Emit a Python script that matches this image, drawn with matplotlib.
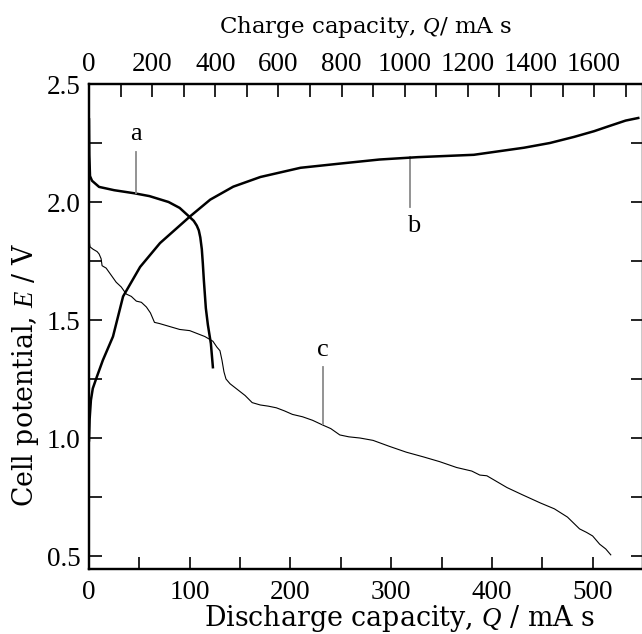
import matplotlib
matplotlib.use('Agg')
import matplotlib.pyplot as plt
from matplotlib.ticker import MultipleLocator

# curve a: discharge (bottom axis), Q / mA s vs E / V
a_q = [0, 0.3, 1, 3, 10, 25, 45, 60, 79, 90, 99, 104, 107, 109, 110.5, 112, 113, 114, 116,
       118, 121, 123]
a_e = [2.35, 2.2, 2.11, 2.09, 2.064, 2.05, 2.037, 2.025, 2.0, 1.975, 1.94, 1.92, 1.90, 1.88,
       1.85, 1.80, 1.74, 1.67, 1.55, 1.48, 1.40, 1.30]

# curve b: charge (top axis)
b_q = [0, 2, 6, 12, 25, 44, 76, 108, 162, 225, 321, 384, 457, 543, 670, 797, 920, 1041,
       1219, 1378, 1460, 1537, 1600, 1644, 1700, 1740]
b_e = [0.99, 1.08, 1.16, 1.21, 1.26, 1.33, 1.43, 1.60, 1.725, 1.826, 1.94, 2.01, 2.065, 2.106,
       2.145, 2.163, 2.18, 2.19, 2.20, 2.23, 2.25, 2.276, 2.30, 2.32, 2.345, 2.356]

# curve c: discharge (bottom axis), noisy trace
c_q = [0, 1, 4, 8, 10, 12, 13, 17, 22, 27, 32, 37, 42, 47, 52, 57, 61, 65, 70, 78, 90, 100,
       109, 115, 119, 123, 127, 130, 132, 134, 136, 140, 149, 155, 162, 170, 178, 186, 194, 202,
       212, 222, 232, 240, 249, 258, 269, 282, 298, 315, 332, 348, 365, 380, 388, 395, 405,
       415, 430, 448, 462, 475, 481, 487, 494, 500, 507, 513, 518]
c_e = [1.84, 1.81, 1.80, 1.79, 1.78, 1.76, 1.73, 1.72, 1.69, 1.66, 1.64, 1.61, 1.60, 1.58,
       1.575, 1.555, 1.53, 1.49, 1.485, 1.475, 1.46, 1.455, 1.44, 1.43, 1.42, 1.41, 1.385,
       1.37, 1.33, 1.28, 1.25, 1.23, 1.20, 1.18, 1.15, 1.14, 1.135, 1.128, 1.115, 1.10, 1.09,
       1.075, 1.055, 1.04, 1.013, 1.005, 1.0, 0.99, 0.965, 0.94, 0.92, 0.90, 0.875, 0.86,
       0.843, 0.84, 0.815, 0.79, 0.76, 0.725, 0.70, 0.665, 0.64, 0.615, 0.60, 0.585, 0.55,
       0.53, 0.505]

plt.rcParams['font.family'] = ['Liberation Serif', 'DejaVu Serif']
plt.rcParams['mathtext.fontset'] = 'custom'
plt.rcParams['mathtext.it'] = 'Liberation Serif:italic'
plt.rcParams['mathtext.rm'] = 'Liberation Serif'
label_font = ['DejaVu Serif']

fig = plt.figure(figsize=(6.42, 6.34), dpi=100)
ax = fig.add_axes([89 / 642, 65 / 634, 554 / 642, 485 / 634])

ax.plot(a_q, a_e, color='black', lw=1.8)
ax.plot(c_q, c_e, color='black', lw=0.8)
ax.set_xlim(0, 550)
ax.set_ylim(0.445, 2.5)

ax2 = ax.twiny()
ax2.plot(b_q, b_e, color='black', lw=1.8)
ax2.set_xlim(0, 1755)

ax.xaxis.set_major_locator(MultipleLocator(100))
ax.xaxis.set_minor_locator(MultipleLocator(50))
ax.yaxis.set_major_locator(MultipleLocator(0.5))
ax.yaxis.set_minor_locator(MultipleLocator(0.25))
ax2.xaxis.set_major_locator(MultipleLocator(200))
ax2.xaxis.set_minor_locator(MultipleLocator(100))
ax.yaxis.set_major_formatter(plt.FormatStrFormatter('%.1f'))

for a in (ax, ax2):
    a.tick_params(which='both', direction='in', labelsize=19.5, width=1.2, length=9)
    for s in a.spines.values():
        s.set_linewidth(1.6)
ax.tick_params(axis='y', which='both', right=True, pad=6)
ax.tick_params(axis='x', which='both', top=False, pad=8)
ax2.tick_params(axis='x', pad=5)

fig.text(366 / 642, 1 - 27 / 634, 'Charge capacity, $Q$/ mA s', fontsize=16.5,
         family=label_font, ha='center', va='center')
fig.text(400 / 642, 1 - 619 / 634, 'Discharge capacity, $Q$ / mA s', fontsize=19.4,
         family=label_font, ha='center', va='center')
fig.text(26 / 642, 1 - 375 / 634, 'Cell potential, $E$ / V', fontsize=19.3,
         family=label_font, ha='center', va='center', rotation=90)

# curve labels with gray leader lines
gray = '#8a8a8a'
ax.plot([47, 47], [2.21, 2.04], color=gray, lw=1.3)
ax.text(47, 2.29, 'a', fontsize=19, ha='center', va='center')
ax.plot([319, 319], [2.19, 1.98], color=gray, lw=1.3)
ax.text(322, 1.90, 'b', fontsize=19, ha='center', va='center')
ax.plot([232, 232], [1.30, 1.06], color=gray, lw=1.3)
ax.text(232, 1.375, 'c', fontsize=19, ha='center', va='center')

fig.savefig('out.png', dpi=100)
